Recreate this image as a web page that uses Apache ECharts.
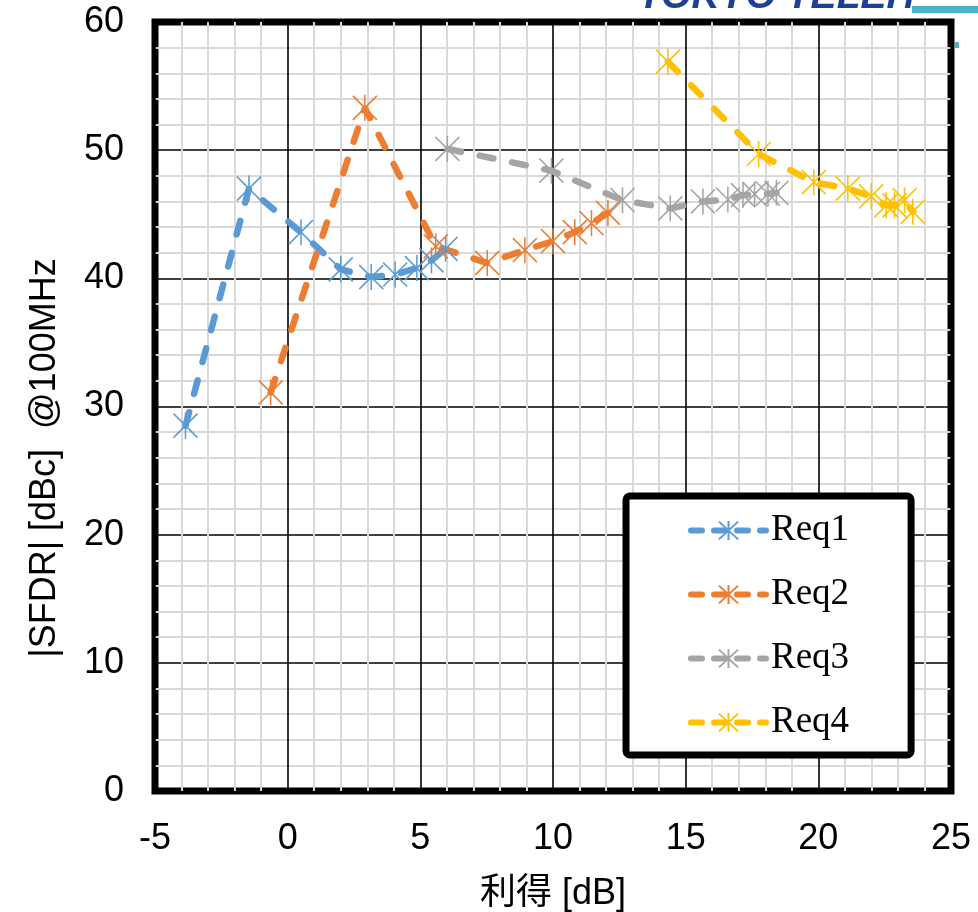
<!DOCTYPE html>
<html>
<head>
<meta charset="utf-8">
<script src="https://cdn.jsdelivr.net/npm/echarts@6/dist/echarts.min.js"></script>
<style>
html,body{margin:0;padding:0;background:#fff;}
#c{width:978px;height:912px;}
</style>
</head>
<body>
<div id="c"></div>
<script>
// ---- data ----
var seriesNames = ['Req1', 'Req2', 'Req3', 'Req4'];
var req1 = [[-3.85, 28.5], [-1.46, 47.0], [0.5, 43.6], [2.0, 40.7], [3.15, 40.1], [4.05, 40.3], [4.87, 40.8], [5.42, 41.4], [5.95, 42.3]];
var req2 = [[-0.64, 31.1], [2.91, 53.3], [5.58, 42.5], [7.52, 41.2], [8.94, 42.2], [10.0, 42.9], [10.82, 43.6], [11.45, 44.3], [12.07, 45.1]];
var req3 = [[6.02, 50.1], [9.94, 48.4], [12.62, 46.1], [14.42, 45.45], [15.65, 46.0], [16.59, 46.15], [17.16, 46.5], [17.6, 46.57], [18.1, 46.6], [18.42, 46.67]];
var req4 = [[14.33, 56.9], [17.75, 49.7], [19.83, 47.5], [21.11, 47.0], [21.99, 46.4], [22.56, 45.7], [22.87, 45.7], [23.25, 46.1], [23.56, 45.2]];
var colors = ['#5b9bd5', '#ed7d31', '#a5a5a5', '#ffc000'];
var xTicks = {min: -5, max: 25, interval: 5};
var yTicks = {min: 0, max: 60, interval: 10};
var xTitle = '利得 [dB]';
var yTitle = '|SFDR| [dBc]  @100MHz';

var starPath = 'path://M12 0 L12 26 M0 1 L24 25 M0 25 L24 1';
var allData = [req1, req2, req3, req4];

var series = allData.map(function (d, i) {
  return {
    name: seriesNames[i],
    type: 'line',
    data: d,
    symbol: starPath,
    symbolSize: [24, 26],
    showAllSymbol: true,
    clip: false,
    itemStyle: {color: 'rgba(0,0,0,0)', borderColor: colors[i], borderWidth: 1.6},
    lineStyle: {color: colors[i], width: 6.5, type: [14, 19], cap: 'round'},
    emphasis: {disabled: true},
    animation: false
  };
});

var chart = echarts.init(document.getElementById('c'), null, {renderer: 'canvas'});
chart.setOption({
  animation: false,
  backgroundColor: '#fff',
  grid: {left: 155, right: 27, top: 22, bottom: 121, show: true, borderColor: '#000', borderWidth: 7, backgroundColor: 'transparent', containLabel: false, outerBoundsMode: 'none'},
  xAxis: {
    type: 'value', min: xTicks.min, max: xTicks.max, interval: xTicks.interval,
    axisLine: {show: false}, axisTick: {show: false},
    axisLabel: {fontFamily: 'Liberation Sans, Arial', fontSize: 36, color: '#000', margin: 30},
    splitLine: {show: true, lineStyle: {color: '#000', width: 1.6}},
    minorTick: {show: false, splitNumber: 5},
    minorSplitLine: {show: true, lineStyle: {color: '#d9d9d9', width: 2}},
    name: xTitle, nameLocation: 'middle', nameGap: 85,
    nameTextStyle: {fontFamily: 'Liberation Sans, Noto Sans CJK JP', fontSize: 36, color: '#000'}
  },
  yAxis: {
    type: 'value', min: yTicks.min, max: yTicks.max, interval: yTicks.interval,
    axisLine: {show: false}, axisTick: {show: false},
    axisLabel: {fontFamily: 'Liberation Sans, Arial', fontSize: 36, color: '#000', margin: 31},
    splitLine: {show: true, lineStyle: {color: '#000', width: 1.6}},
    minorTick: {show: false, splitNumber: 5},
    minorSplitLine: {show: true, lineStyle: {color: '#d9d9d9', width: 2}}
  },
  legend: {
    show: true, orient: 'vertical', left: 626, top: 496,
    data: seriesNames,
    itemWidth: 75, itemHeight: 24, itemGap: 27,
    padding: [16, 62, 14, 62],
    borderColor: '#000', borderWidth: 7, borderRadius: 4, backgroundColor: '#fff',
    lineStyle: {width: 6, type: [11, 12], cap: 'round'},
    textStyle: {fontFamily: 'Liberation Serif, Times New Roman', fontSize: 37, color: '#000', padding: [0, 0, 0, 0]},
    selectedMode: false
  },
  graphic: [
    {type: 'text', x: 45, y: 458, rotation: Math.PI / 2, silent: true,
     style: {text: yTitle, fontFamily: 'Liberation Sans, Arial', fontSize: 36, fill: '#000', align: 'center', verticalAlign: 'middle'}},
    {type: 'text', silent: true, x: 638, y: 17,
     style: {text: 'TOKYO TELEH', fontFamily: 'Liberation Sans, Arial', fontWeight: 'bold', fontStyle: 'italic', fontSize: 39, fill: '#1e3f96', align: 'left', verticalAlign: 'bottom'}},
    {type: 'rect', silent: true, shape: {x: 912, y: 6, width: 66, height: 7}, style: {fill: '#4bb3c8'}},
    {type: 'rect', silent: true, shape: {x: 955, y: 42, width: 4, height: 6}, style: {fill: '#4bb3c8'}}
  ],
  series: series
});
</script>
</body>
</html>
